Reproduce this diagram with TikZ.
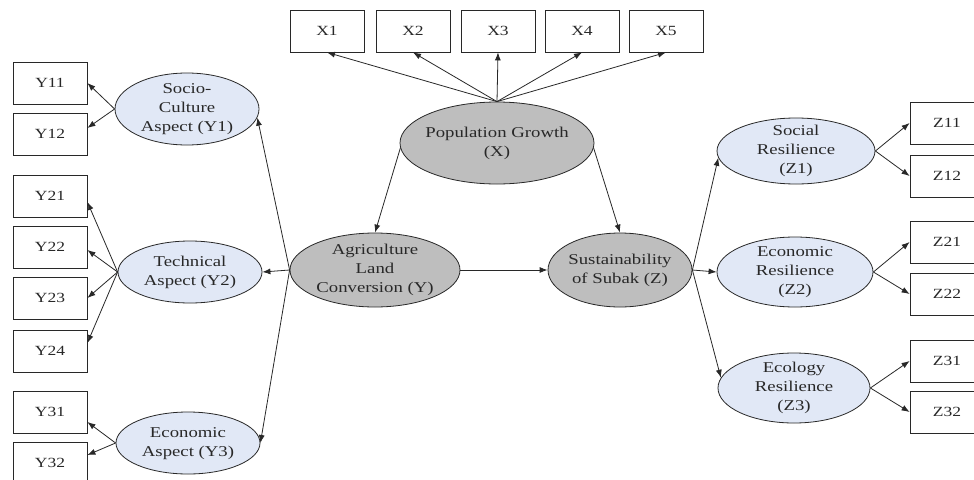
\documentclass[tikz,border=0pt]{standalone}
\usepackage{fontspec}
\setmainfont{Liberation Serif}[FakeStretch=1.25]
\usetikzlibrary{shapes.geometric,arrows.meta}
\newcommand{\ctext}[1]{\makebox[0pt]{\smash{\raisebox{-0.25em}{\begin{tabular}{@{}c@{}}#1\end{tabular}}}}}
\definecolor{latgrey}{RGB}{190,190,190}
\definecolor{latblue}{RGB}{225,232,246}
\definecolor{inkc}{RGB}{40,40,40}
\begin{document}
\begin{tikzpicture}[x=1pt,y=-1pt,
 ind/.style={draw=inkc, line width=0.8pt, fill=white, minimum width=74pt, minimum height=42pt, inner sep=0pt, font=\fontsize{14}{17}\selectfont, text=inkc},
 mainlat/.style={ellipse, draw=inkc, line width=0.8pt, fill=latgrey, inner sep=0pt, font=\fontsize{15}{19}\selectfont, text=inkc},
 sublat/.style={mainlat, fill=latblue},
 arr/.style={-{Latex[length=8pt,width=6pt]}, line width=0.8pt, draw=inkc}]

\clip (0,0) rectangle (974,479);
\fill[white] (0,0) rectangle (974,479);

% indicator boxes X
\node[ind] (X1) at (327,31) {X1};
\node[ind] (X2) at (413,31) {X2};
\node[ind] (X3) at (498,31) {X3};
\node[ind] (X4) at (582,31) {X4};
\node[ind] (X5) at (666,31) {X5};

% indicator boxes Y
\node[ind] (Y11) at (50,83) {Y11};
\node[ind] (Y12) at (50,134) {Y12};
\node[ind] (Y21) at (50,196) {Y21};
\node[ind] (Y22) at (50,247) {Y22};
\node[ind] (Y23) at (50,298) {Y23};
\node[ind] (Y24) at (50,351) {Y24};
\node[ind] (Y31) at (50,412) {Y31};
\node[ind] (Y32) at (50,463) {Y32};

% indicator boxes Z
\node[ind] (Z11) at (947,123) {Z11};
\node[ind] (Z12) at (947,176) {Z12};
\node[ind] (Z21) at (947,242) {Z21};
\node[ind] (Z22) at (947,294) {Z22};
\node[ind] (Z31) at (947,361) {Z31};
\node[ind] (Z32) at (947,412) {Z32};

% main latent variables
\node[mainlat, minimum width=194pt, minimum height=82pt] (PG) at (497,143) {\ctext{Population Growth\\(X)}};
\node[mainlat, minimum width=170pt, minimum height=74pt] (AG) at (375,270) {\ctext{Agriculture\\Land\\Conversion (Y)}};
\node[mainlat, minimum width=144pt, minimum height=74pt] (SU) at (620,270) {\ctext{Sustainability\\of Subak (Z)}};

% sub latent variables
\node[sublat, minimum width=144pt, minimum height=72pt] (Y1) at (187,109) {\ctext{Socio-\\Culture\\Aspect (Y1)}};
\node[sublat, minimum width=144pt, minimum height=62pt] (Y2) at (190,272) {\ctext{Technical\\Aspect (Y2)}};
\node[sublat, minimum width=144pt, minimum height=62pt] (Y3) at (188,443) {\ctext{Economic\\Aspect (Y3)}};
\node[sublat, minimum width=158pt, minimum height=66pt] (Z1) at (796,151) {\ctext{Social\\Resilience\\(Z1)}};
\node[sublat, minimum width=156pt, minimum height=70pt] (Z2) at (795,272) {\ctext{Economic\\Resilience\\(Z2)}};
\node[sublat, minimum width=152pt, minimum height=70pt] (Z3) at (794,388) {\ctext{Ecology\\Resilience\\(Z3)}};

% connectors
\foreach \x in {X1,X2,X3,X4,X5} \draw[arr] (PG.north) -- (\x.south);
\draw[arr] (PG.183) -- (AG.north);
\draw[arr] (PG.-3) -- (SU.north);
\draw[arr] (AG.east) -- (SU.west);

\draw[arr] (AG.west) -- (Y1.-7);
\draw[arr] (AG.west) -- (Y2.east);
\draw[arr] (AG.west) -- (Y3.east);

\draw[arr] (Y1.west) -- (Y11.east);
\draw[arr] (Y1.west) -- ([yshift=6pt]Y12.east);
\draw[arr] (Y2.west) -- ([yshift=-6pt]Y21.east);
\draw[arr] (Y2.west) -- ([yshift=-3pt]Y22.east);
\draw[arr] (Y2.west) -- (Y23.east);
\draw[arr] (Y2.west) -- ([yshift=8pt]Y24.east);
\draw[arr] (Y3.west) -- ([yshift=-10pt]Y31.east);
\draw[arr] (Y3.west) -- ([yshift=8pt]Y32.east);

\draw[arr] (SU.east) -- (Z1.185);
\draw[arr] (SU.east) -- (Z2.west);
\draw[arr] (SU.east) -- (Z3.172);

\draw[arr] (Z1.east) -- (Z11.west);
\draw[arr] (Z1.east) -- (Z12.west);
\draw[arr] (Z2.east) -- (Z21.west);
\draw[arr] (Z2.east) -- (Z22.west);
\draw[arr] (Z3.east) -- (Z31.west);
\draw[arr] (Z3.east) -- (Z32.west);
\end{tikzpicture}
\end{document}
